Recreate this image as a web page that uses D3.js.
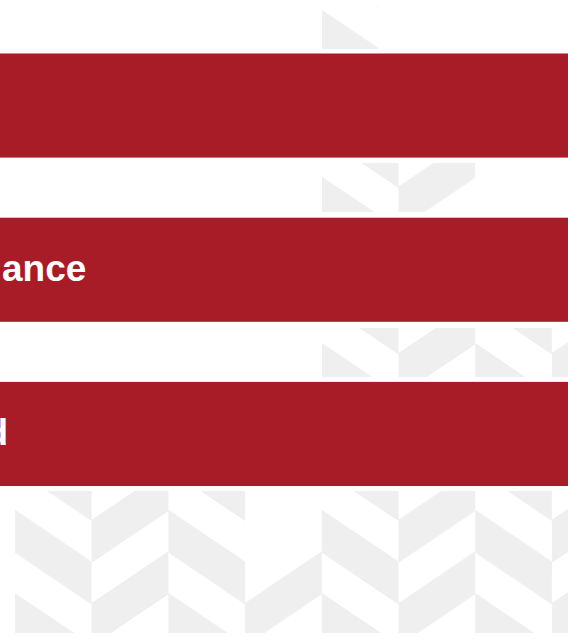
<!DOCTYPE html>
<html>
<head>
<meta charset="utf-8">
<script src="https://cdn.jsdelivr.net/npm/d3@7"></script>
<style>
  body { margin: 0; background: #fff; }
  svg { display: block; }
</style>
</head>
<body>
<script>
const width = 568;
const height = 640;

// slide rows, top to bottom (only the tail of each label is in frame)
const rows = ['row1', 'row2', 'row3'];
const labels = ['', 'ance', 'd'];

const barColor = '#a81c27';

const svg = d3.select('body')
    .append('svg')
    .attr('width', width)
    .attr('height', height);

// --- herringbone backdrop ---
const colW = 76.7, rise = 51.7, period = 83.3, band = 43, x0 = 15, y0 = 509.7;

// tiles that are missing from the pattern
const gaps = ['3,0', '3,-1'];

const tiles = [];
for (let k = 0; k < 8; k++) {
    for (let j = -7; j < 2; j++) {
        if (gaps.includes(k + ',' + j)) continue;
        const xl = x0 + k * colW, xr = xl + colW;
        const base = y0 + j * period;
        let yl, yr;
        if (k % 2 === 0) {
            yl = base;
            yr = base + rise;
        } else {
            yl = base + 10;
            yr = yl - rise;
        }
        tiles.push({ k, j, pts: [[xl, yl], [xr, yr], [xr, yr + band], [xl, yl + band]] });
    }
}

// parts of the backdrop that show through
const windows = [
    [322, 6, 56, 43],
    [322, 163, 153, 49],
    [322, 328, 246, 49],
    [15, 491, 553, 142]
];

const clip = svg.append('defs').append('clipPath').attr('id', 'win');
clip.selectAll('rect')
    .data(windows)
    .join('rect')
    .attr('x', d => d[0])
    .attr('y', d => d[1])
    .attr('width', d => d[2])
    .attr('height', d => d[3]);

svg.append('g')
    .attr('clip-path', 'url(#win)')
    .selectAll('path')
    .data(tiles)
    .join('path')
    .attr('d', d => 'M' + d.pts.join('L') + 'Z')
    .attr('fill', '#efefef');

// --- bars ---
const y = d3.scaleBand()
    .domain(rows)
    .range([53.5, 486])
    .paddingInner(0.366);

const x = d3.scaleLinear()
    .domain([0, 1])
    .range([0, width]);

svg.selectAll('rect.bar')
    .data(rows)
    .join('rect')
    .attr('class', 'bar')
    .attr('x', x(0))
    .attr('y', d => y(d))
    .attr('width', x(1) - x(0))
    .attr('height', y.bandwidth())
    .attr('fill', barColor);

const labelX = [0, 2, -14.6];

svg.selectAll('text.label')
    .data(rows)
    .join('text')
    .attr('class', 'label')
    .attr('x', (d, i) => labelX[i])
    .attr('y', d => y(d) + 63)
    .attr('fill', '#fff')
    .attr('font-family', 'Liberation Sans, Arial, sans-serif')
    .attr('font-weight', 'bold')
    .attr('font-size', 37)
    .text((d, i) => labels[i]);
</script>
</body>
</html>
